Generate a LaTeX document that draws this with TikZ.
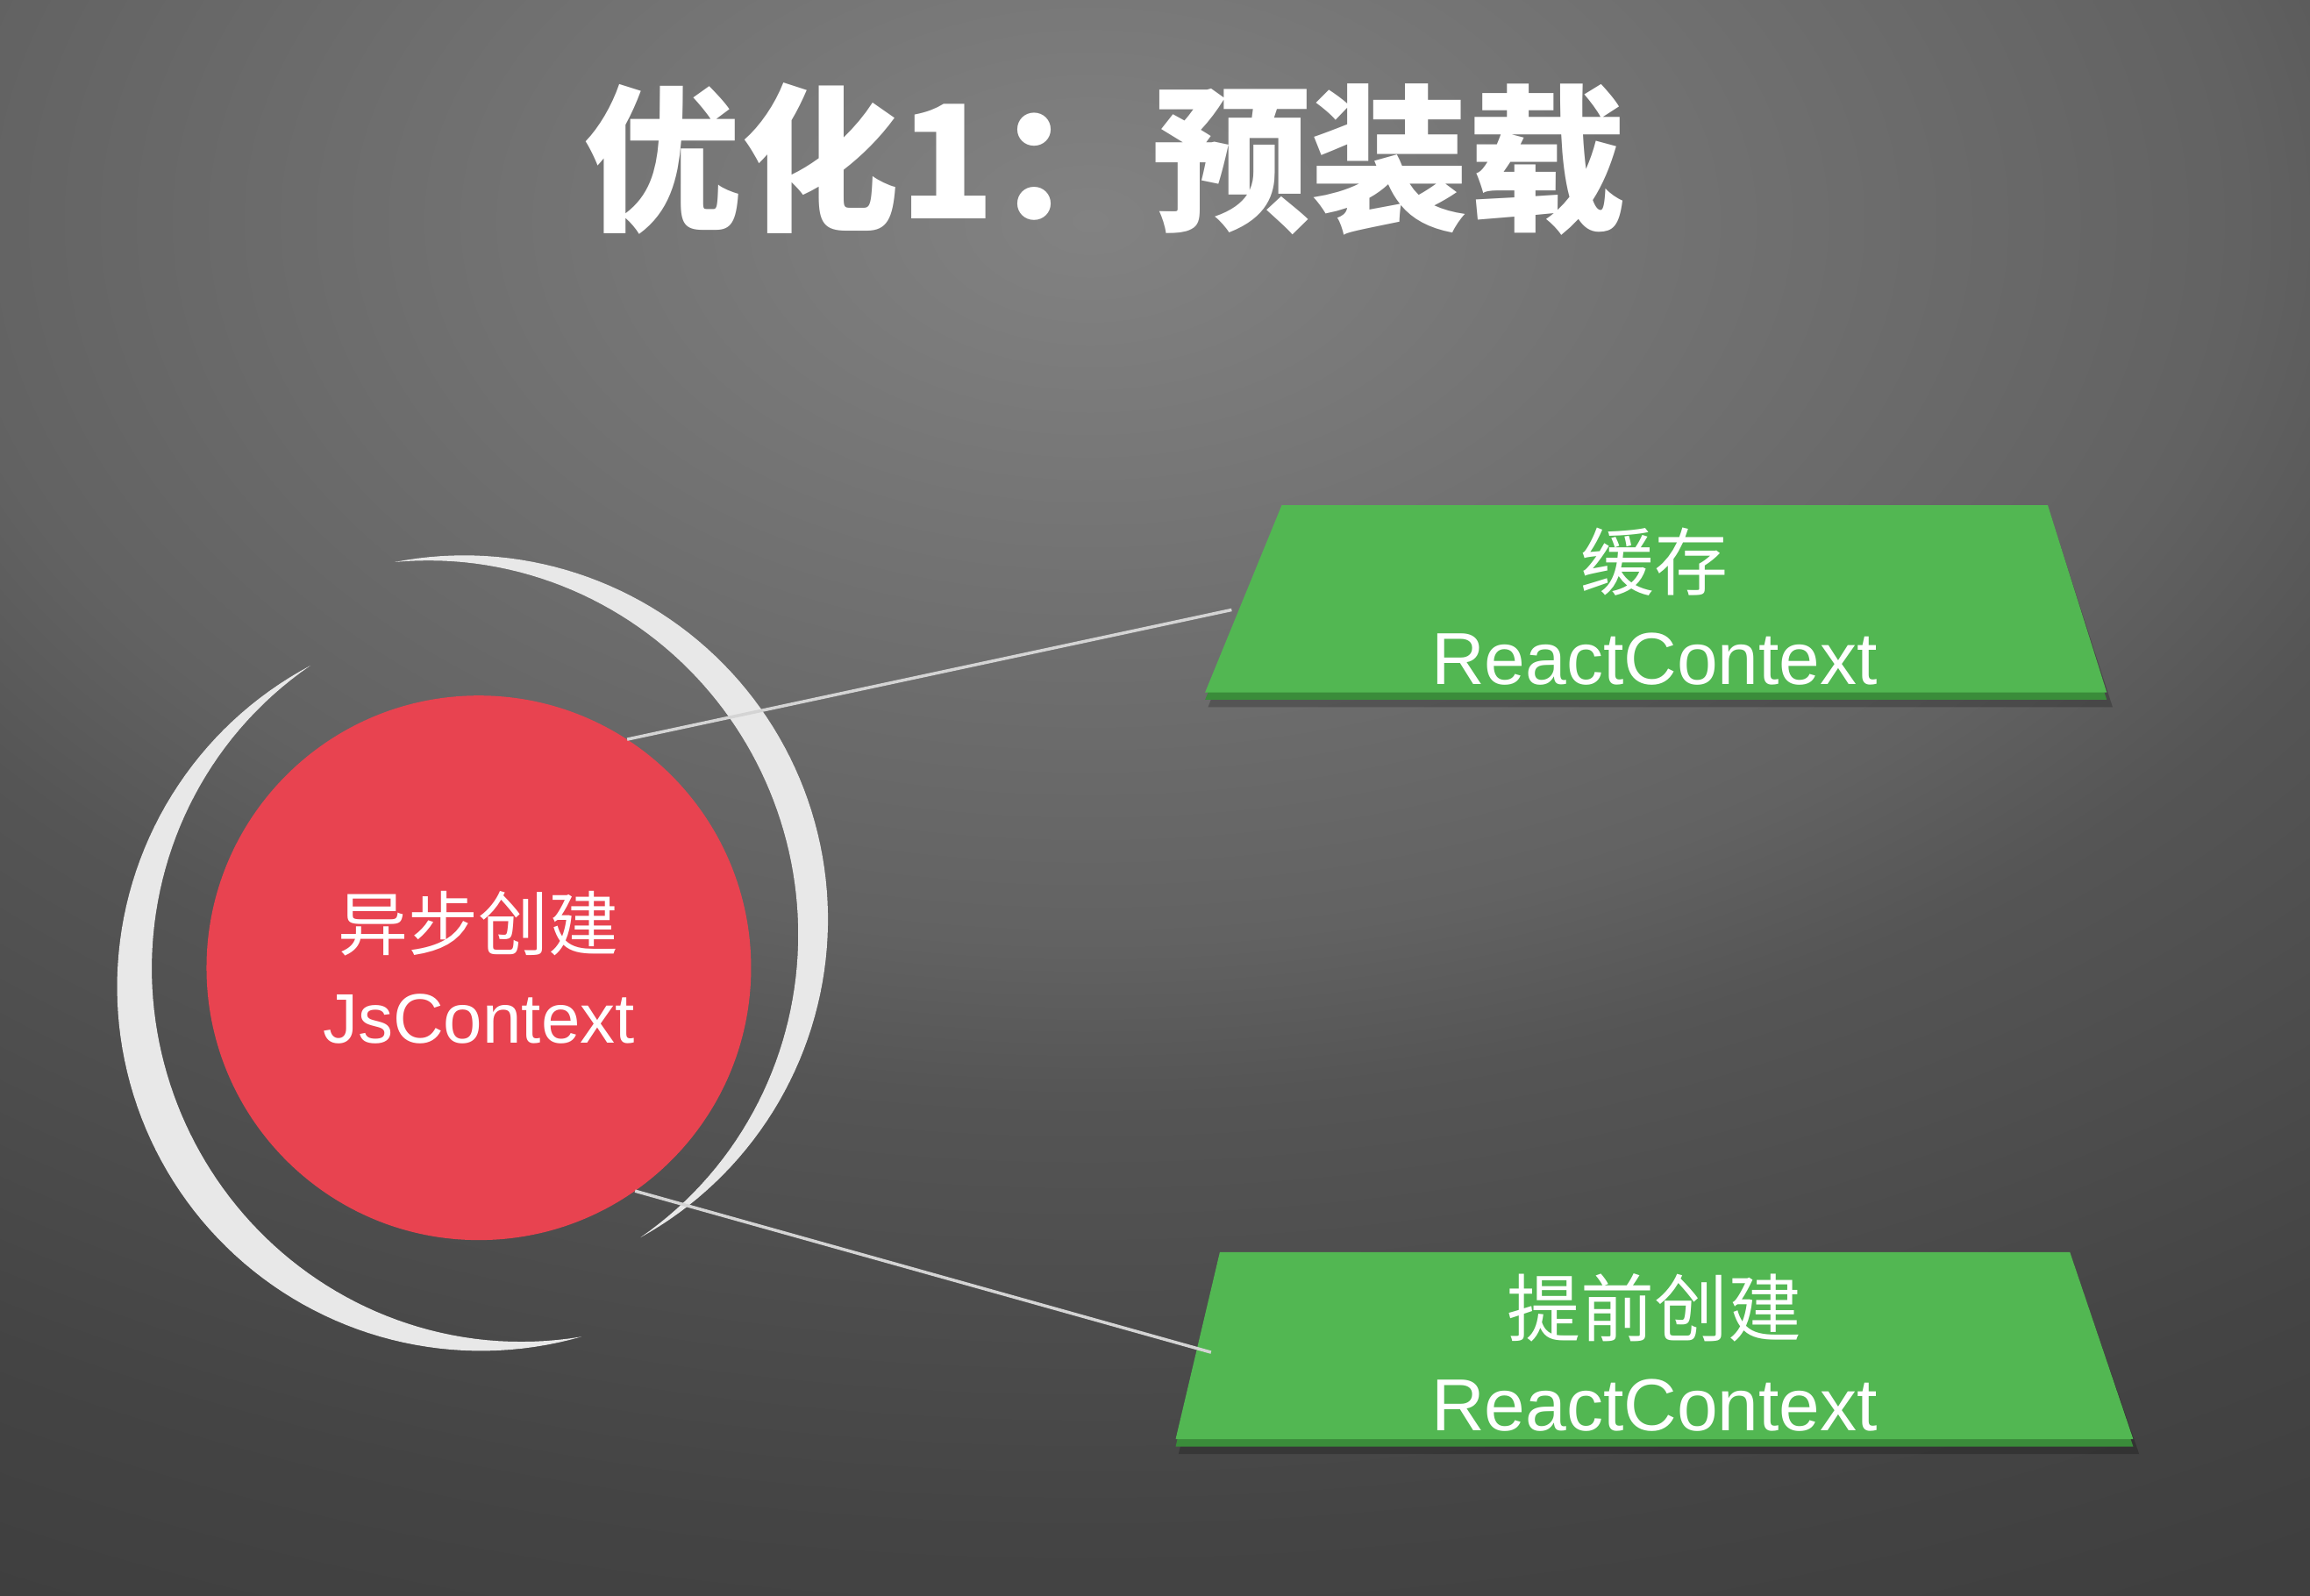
\documentclass[tikz,border=0pt]{standalone}
\usepackage{fontspec}
\setmainfont{Liberation Sans}
\newfontfamily\cjk{Noto Sans CJK SC}
\usetikzlibrary{shapes.geometric}
\definecolor{bgA}{RGB}{130,130,130}
\definecolor{bgB}{RGB}{98,98,98}
\definecolor{bgC}{RGB}{85,85,85}
\definecolor{bgD}{RGB}{68,68,68}
\definecolor{bgE}{RGB}{63,63,63}
\definecolor{jsred}{RGB}{232,67,80}
\definecolor{crescentgray}{RGB}{232,232,232}
\definecolor{boxgreen}{RGB}{82,183,82}
\definecolor{boxedge}{RGB}{58,140,58}
\definecolor{linegray}{RGB}{212,212,212}
\pgfdeclareradialshading{bgshade}{\pgfpoint{0bp}{0bp}}{color(0bp)=(bgA); color(11.5bp)=(bgB); color(14bp)=(bgC); color(21bp)=(bgD); color(24.5bp)=(bgE); color(50bp)=(bgE)}
\tikzset{
  crescent/.style={fill=crescentgray},
  connector/.style={draw=linegray, line width=3.5pt},
  boxtext/.style={text=white, align=center, inner sep=0pt, font=\fontsize{84}{108}\selectfont},
  titletext/.style={inner sep=0pt, font=\cjk\bfseries\fontsize{180}{200}\selectfont},
  greenbox/.style={fill=boxgreen},
  greenedge/.style={fill=boxedge},
  boxshadow/.style={fill=black, opacity=.22}
}
\begin{document}
\begin{tikzpicture}[x=1.68pt, y=-1.68pt]
\useasboundingbox (0,0) rectangle (1568,1083.4);
% background
\fill[bgE] (0,0) rectangle (1568,1083.4);
\begin{scope}
  \clip (0,0) rectangle (1568,1083.4);
  \shade[shading=bgshade] (740,150) ellipse [x radius=2856pt, y radius=1785pt];
\end{scope}

% title
\node[titletext, text=white] (title) at (750,108) {优化1：预装载};

% crescents
\fill[crescent] plot[domain=-61:101, samples=90, variable=\t] ({315+247*cos(\t)}, {624-247*sin(\t)})
  -- plot[domain=101:-61, samples=90, variable=\t] ({315+(247-22*sin((\t+61)*1.1111))*cos(\t)}, {624-(247-22*sin((\t+61)*1.1111))*sin(\t)}) -- cycle;
\fill[crescent] plot[domain=118:286, samples=90, variable=\t] ({326.5+247*cos(\t)}, {670-247*sin(\t)})
  -- plot[domain=286:118, samples=90, variable=\t] ({326.5+(247-26*sin((\t-118)*1.0714))*cos(\t)}, {670-(247-26*sin((\t-118)*1.0714))*sin(\t)}) -- cycle;

% green boxes
\fill[boxshadow] (872,350) -- (1392,350) -- (1434,480) -- (820,480) -- cycle;
\fill[greenedge] (870,348) -- (1390,348) -- (1430,475) -- (818,475) -- cycle;
\fill[greenbox] (870,343) -- (1390,343) -- (1430,470) -- (818,470) -- cycle;
\node[boxtext] (cache) at (1123,412) {{\cjk 缓存}\\ReactContext};
\coordinate (cacheleft) at (836,414);

\fill[boxshadow] (830,857) -- (1407,857) -- (1452,987) -- (800,987) -- cycle;
\fill[greenedge] (828,855) -- (1405,855) -- (1448,982) -- (798,982) -- cycle;
\fill[greenbox] (828,850) -- (1405,850) -- (1448,977) -- (798,977) -- cycle;
\node[boxtext] (pre) at (1123,918) {{\cjk 提前创建}\\ReactContext};
\coordinate (preleft) at (822,918);

% red circle
\node[circle, fill=jsred, minimum size=621pt, inner sep=0pt, text=white, align=center,
      font=\fontsize{80}{106}\selectfont] (js) at (325,657) {{\cjk 异步创建}\\JsContext};

% connectors
\draw[connector] (js.57) -- (cacheleft);
\draw[connector] (js.-55) -- (preleft);
\end{tikzpicture}
\end{document}
